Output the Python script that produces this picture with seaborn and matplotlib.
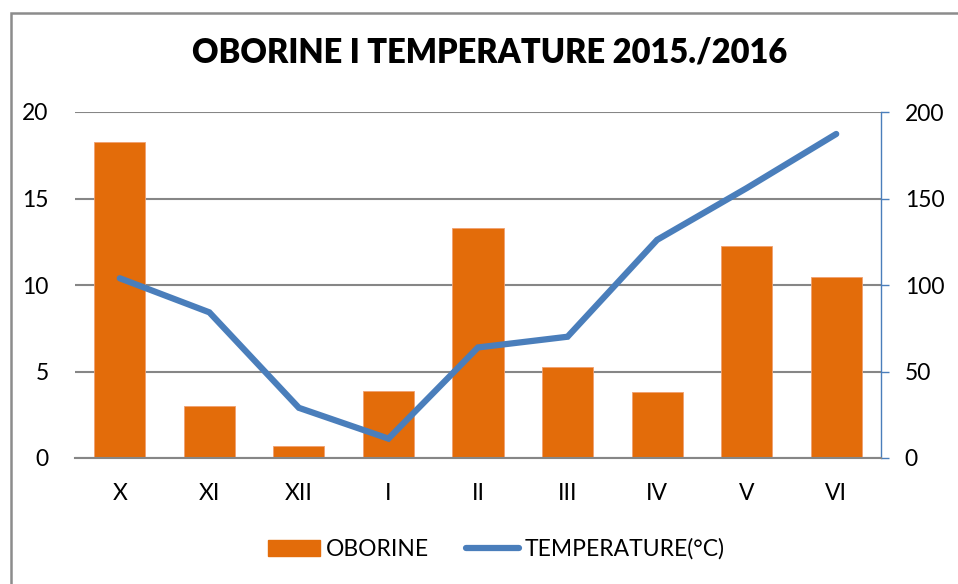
import matplotlib
matplotlib.use("Agg")
import matplotlib.pyplot as plt
import matplotlib.patches as mpatches
import matplotlib.lines as mlines
import numpy as np
import seaborn as sns

months = ["X", "XI", "XII", "I", "II", "III", "IV", "V", "VI"]
oborine = [182.6, 30.3, 6.8, 39.0, 132.8, 52.7, 38.0, 122.4, 104.8]   # mm, right axis
temperature = [10.39, 8.42, 2.90, 1.12, 6.39, 7.01, 12.61, 15.60, 18.73]  # °C, left axis
left_ticks = [0, 5, 10, 15, 20]
right_ticks = [0, 50, 100, 150, 200]

ORANGE = "#E36C0A"
BLUE = "#4A7EBB"
GRID = "#868686"

sns.set_style("white")
plt.rcParams["font.family"] = ["Lato", "DejaVu Sans"]
plt.rcParams["text.color"] = "black"

fig = plt.figure(figsize=(9.58, 5.84), dpi=100)
ax = fig.add_axes([75 / 958, 1 - 458 / 584, 806 / 958, 346 / 584])
ax2 = ax.twinx()

# bars (precipitation) on the secondary axis, drawn underneath the line
ax2.set_zorder(1)
ax.set_zorder(2)
ax.patch.set_visible(False)

sns.barplot(x=months, y=oborine, ax=ax2, color=ORANGE, width=0.57,
            saturation=1, edgecolor="#F0A070", linewidth=0.6)
sns.lineplot(x=np.arange(len(months)), y=temperature, ax=ax, color=BLUE,
             linewidth=4.5, solid_capstyle="round", solid_joinstyle="miter")

ax.set_xlim(-0.5, len(months) - 0.5)
ax.set_ylim(0, 20)
ax2.set_ylim(0, 200)
ax.set_yticks(left_ticks)
ax2.set_yticks(right_ticks)
ax.set_xticks(np.arange(len(months)))
ax.set_xticklabels(months)
ax.set_xlabel("")
ax.set_ylabel("")
ax2.set_xlabel("")
ax2.set_ylabel("")

ax2.yaxis.grid(True, color=GRID, linewidth=1.5)
ax2.set_axisbelow(True)
ax.grid(False)

for a in (ax, ax2):
    for s in a.spines.values():
        s.set_visible(False)
ax.spines["bottom"].set_visible(True)
ax.spines["bottom"].set_color(GRID)
ax.spines["bottom"].set_linewidth(1.5)
ax2.spines["right"].set_visible(True)
ax2.spines["right"].set_color(BLUE)
ax2.spines["right"].set_linewidth(1.0)

ax.tick_params(axis="y", length=0, pad=19, labelsize=16.5, colors="black")
ax.tick_params(axis="x", length=0, pad=18, labelsize=16.5, colors="black")
ax2.tick_params(axis="y", length=6, width=1, color=BLUE, pad=11,
                labelsize=16.5, labelcolor="black", direction="out")
ax2.tick_params(axis="x", length=0, labelbottom=False)

fig.text(490 / 958, 1 - 52 / 584, "OBORINE I TEMPERATURE 2015./2016",
         ha="center", va="center", fontsize=23.5, fontweight="heavy",
         color="black")

handles = [mpatches.Patch(color=ORANGE, label="OBORINE"),
           mlines.Line2D([], [], color=BLUE, linewidth=4.5,
                         solid_capstyle="round", label="TEMPERATURE(°C)")]
leg = fig.legend(handles=handles, loc="center",
                 bbox_to_anchor=(496 / 958, 1 - 549 / 584),
                 ncol=2, frameon=False, fontsize=16.5, handlelength=2.3,
                 handletextpad=0.25, columnspacing=1.6)
for t in leg.get_texts():
    t.set_color("black")

# outer chart border (cropped at right and bottom)
fig.patches.append(mpatches.Rectangle((11 / 958, -0.1), 1.2, 1.1 - 13 / 584,
                                      transform=fig.transFigure, fill=False,
                                      edgecolor="#8C8C8C", linewidth=1.8))

fig.savefig("out.png", dpi=100)
